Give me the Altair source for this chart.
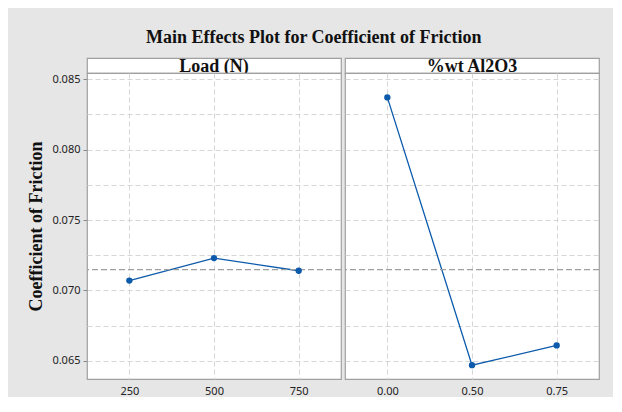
import altair as alt
import pandas as pd

# ---- data ----
factor_names = ["Load (N)", "%wt Al2O3"]
load_levels = ["250", "500", "750"]
load_means = [0.0707, 0.0723, 0.0714]
al_levels = ["0.00", "0.50", "0.75"]
al_means = [0.0837, 0.0647, 0.0661]
grand_mean = 0.07148
y_label_ticks = [0.065, 0.070, 0.075, 0.080, 0.085]
y_grid_ticks = [0.065, 0.0675, 0.070, 0.0725, 0.075, 0.0775, 0.080, 0.0825, 0.085]
y_domain = [0.06372, 0.08543]

SERIF = "Liberation Serif"
SANS = "Noto Sans"
BLUE = "#0b5aab"
BORDER = "#a0a0a0"
PW, PH, HH = 254, 306, 15


def panel(levels, means, name, show_y):
    df = pd.DataFrame({"idx": [1, 2, 3], "lab": levels, "mean": means})
    label_expr = "[" + ",".join(f"'{l}'" for l in levels) + "][datum.value-1]"
    xscale = alt.Scale(domain=[0.5, 3.5], nice=False, zero=False)
    yscale = alt.Scale(domain=y_domain, nice=False, zero=False)
    xaxis = alt.Axis(values=[1, 2, 3], labelExpr=label_expr, title=None, grid=True,
                     gridDash=[5, 3], gridColor="#d6d6d6", ticks=False, domain=False,
                     labelPadding=6, labelFont=SANS, labelFontSize=11, labelColor="#222")
    base = alt.Chart(df)
    grid_layer = base.mark_line(color=BLUE, strokeWidth=1.3).encode(
        x=alt.X("idx:Q", scale=xscale, axis=xaxis),
        y=alt.Y("mean:Q", scale=yscale,
                axis=alt.Axis(values=y_grid_ticks, grid=True, gridDash=[5, 3], orient="left",
                              gridColor="#d6d6d6", labels=False, ticks=False,
                              domain=False, title=None)),
    )
    if show_y:
        yaxis = alt.Axis(values=y_label_ticks, format=".3f", grid=False, ticks=True,
                         orient="left", tickSize=4, tickColor="#888", domain=False,
                         labelFont=SANS, labelFontSize=11, labelColor="#222", labelPadding=3,
                         title="Coefficient of Friction", titleFont=SERIF,
                         titleFontSize=18, titleFontWeight="bold", titleColor="#111",
                         titlePadding=6)
    else:
        yaxis = None
    pts = base.mark_circle(color=BLUE, size=40, opacity=1).encode(
        x=alt.X("idx:Q", scale=xscale, axis=xaxis),
        y=alt.Y("mean:Q", scale=yscale, axis=yaxis),
    )
    ref = alt.Chart(pd.DataFrame({"g": [grand_mean]})).mark_rule(
        color="#a0a0a0", strokeDash=[6, 3], strokeWidth=1.3
    ).encode(y=alt.Y("g:Q", scale=yscale, axis=None))
    plot = alt.layer(grid_layer, ref, pts).resolve_axis(y="independent").properties(
        width=PW, height=PH)
    hdr = alt.Chart(pd.DataFrame({"t": [name]})).mark_text(
        font=SERIF, fontSize=18, fontWeight="bold", color="#111", baseline="middle", dy=1
    ).encode(text="t:N").properties(
        width=PW, height=HH,
        view=alt.ViewBackground(fill="white", stroke=BORDER, strokeWidth=1.2))
    return alt.vconcat(hdr, plot, spacing=0, bounds="flush")


left = panel(load_levels, load_means, factor_names[0], True)
right = panel(al_levels, al_means, factor_names[1], False)

chart = alt.hconcat(left, right, spacing=0).properties(
    title=alt.TitleParams("Main Effects Plot for Coefficient of Friction", font=SERIF,
                          fontSize=18, fontWeight="bold", color="#111", offset=10,
                          anchor="middle"),
    background="#e6e6e6",
    padding={"left": 19, "top": 20, "right": 12, "bottom": 0},
).configure_view(stroke=BORDER, fill="white", strokeWidth=1.2)

chart.save("out.html", embed_options={"renderer": "svg", "actions": False})
